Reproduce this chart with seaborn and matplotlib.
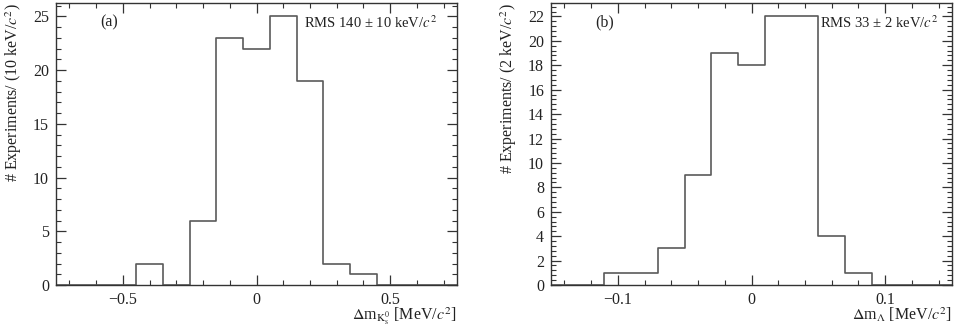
import numpy as np
import pandas as pd
import matplotlib
matplotlib.use("Agg")
import matplotlib.pyplot as plt
from matplotlib.ticker import MultipleLocator, FuncFormatter
import seaborn as sns

# ---- data ----
# panel (a): K0s mass shift, bins of 0.1 MeV/c^2 from -0.75 to 0.75
a_edges = [-0.75, -0.65, -0.55, -0.45, -0.35, -0.25, -0.15, -0.05, 0.05, 0.15, 0.25, 0.35, 0.45, 0.55, 0.65, 0.75]
a_centers = [-0.7, -0.6, -0.5, -0.4, -0.3, -0.2, -0.1, 0.0, 0.1, 0.2, 0.3, 0.4, 0.5, 0.6, 0.7]
a_counts = [0, 0, 0, 2, 0, 6, 23, 22, 25, 19, 2, 1, 0, 0, 0]
# panel (b): Lambda mass shift, bins of 0.02 MeV/c^2 from -0.15 to 0.15
b_edges = [-0.15, -0.13, -0.11, -0.09, -0.07, -0.05, -0.03, -0.01, 0.01, 0.03, 0.05, 0.07, 0.09, 0.11, 0.13, 0.15]
b_centers = [-0.14, -0.12, -0.10, -0.08, -0.06, -0.04, -0.02, 0.0, 0.02, 0.04, 0.06, 0.08, 0.10, 0.12, 0.14]
b_counts = [0, 0, 1, 1, 3, 9, 19, 18, 22, 22, 4, 1, 0, 0, 0]

a_ylabel = "# Experiments/ (10 keV/$c^2$)"
b_ylabel = "# Experiments/ (2 keV/$c^2$)"
a_xlabel = r"$\Delta$m$_{\mathrm{K^0_s}}$ [MeV/$c^2$]"
b_xlabel = r"$\Delta$m$_{\Lambda}$ [MeV/$c^2$]"
a_tag, b_tag = "(a)", "(b)"
a_rms = "RMS 140 ± 10 keV/$c^2$"
b_rms = "RMS 33 ± 2 keV/$c^2$"

sns.set_theme(style="ticks")
plt.rcParams["font.family"] = ["Liberation Serif", "DejaVu Serif"]
plt.rcParams["mathtext.fontset"] = "stix"

FS = 11.5
FS_TXT = 10.5
TXT = "#222222"


def fmt(v, pos):
    s = "%g" % round(v, 6)
    if s == "-0":
        s = "0"
    return s.replace("-", "\u2212")


fig = plt.figure(figsize=(9.57, 3.29), dpi=100)
W, H = 957, 329
ax_a = fig.add_axes([56 / W, (H - 285) / H, 401 / W, 282 / H])
ax_b = fig.add_axes([551 / W, (H - 285) / H, 401 / W, 282 / H])

panels = [
    (ax_a, a_centers, a_counts, a_edges, (-0.75, 0.75), 26.25, 0.5, 0.1, 5, 1, a_ylabel, a_xlabel, a_tag, a_rms, 0.95),
    (ax_b, b_centers, b_counts, b_edges, (-0.15, 0.15), 23.1, 0.1, 0.02, 2, 0.4, b_ylabel, b_xlabel, b_tag, b_rms, 0.965),
]

for ax, centers, counts, edges, xlim, ytop, xmaj, xmin, ymaj, ymin, ylab, xlab, tag, rms, rx in panels:
    df = pd.DataFrame({"x": centers, "w": counts})
    sns.histplot(data=df, x="x", weights="w", bins=edges, element="step",
                 fill=False, color="#5a5a5a", linewidth=1.2, ax=ax)
    ax.set_xlim(*xlim)
    ax.set_ylim(0, ytop)
    ax.xaxis.set_major_locator(MultipleLocator(xmaj))
    ax.xaxis.set_minor_locator(MultipleLocator(xmin))
    ax.yaxis.set_major_locator(MultipleLocator(ymaj))
    ax.yaxis.set_minor_locator(MultipleLocator(ymin))
    ax.xaxis.set_major_formatter(FuncFormatter(fmt))
    ax.yaxis.set_major_formatter(FuncFormatter(fmt))
    ax.tick_params(which="both", direction="in", top=True, right=True,
                   color="#333333", labelsize=FS, labelcolor=TXT)
    ax.tick_params(which="major", length=7, width=0.9)
    ax.tick_params(axis="x", which="major", pad=5)
    ax.tick_params(axis="y", which="major", pad=5)
    ax.tick_params(which="minor", length=3.5, width=0.8)
    for s in ax.spines.values():
        s.set_color("#333333")
        s.set_linewidth(1.0)
    ax.set_ylabel(ylab, fontsize=FS, color=TXT, ha="right")
    ax.yaxis.set_label_coords(-0.08, 1.0)
    ax.set_xlabel(xlab, fontsize=FS, color=TXT, ha="right")
    ax.xaxis.label.set_va("baseline")
    ax.xaxis.set_label_coords(1.0, -0.125)
    ax.text(0.11, 0.93, tag, transform=ax.transAxes, fontsize=FS,
            color=TXT, va="center", ha="left")
    ax.text(rx, 0.93, rms, transform=ax.transAxes, fontsize=FS_TXT,
            color=TXT, va="center", ha="right")

fig.savefig("out.png", dpi=100)
